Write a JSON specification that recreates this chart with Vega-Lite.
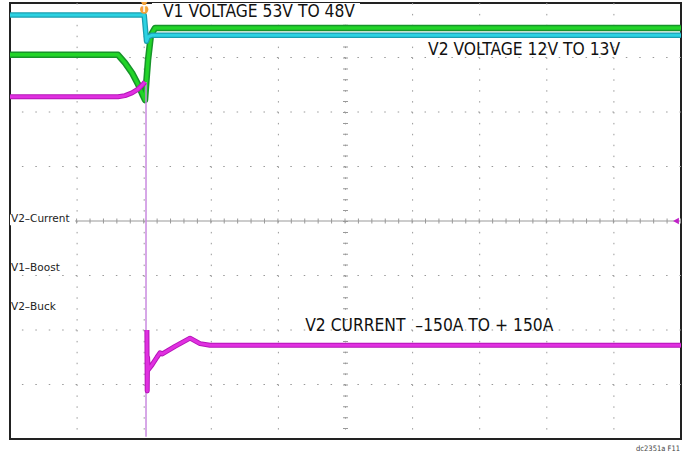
{
  "$schema": "https://vega.github.io/schema/vega-lite/v6.json",
  "width": 671,
  "height": 436,
  "autosize": "none",
  "padding": {"left": 10, "top": 3, "right": 9, "bottom": 15},
  "background": "white",
  "config": {"view": {"stroke": "#222", "strokeWidth": 2}},
  "datasets": {
    "gx": [{"g": 1}, {"g": 2}, {"g": 3}, {"g": 4}, {"g": 6}, {"g": 7}, {"g": 8}, {"g": 9}],
    "gy": [{"g": 1}, {"g": 2}, {"g": 3}, {"g": 5}, {"g": 6}, {"g": 7}],
    "cx": [{"g": 4}],
    "cv": [{"g": 5}],
    "tr": [
      {"s": "cyan", "i": 0, "t": 0, "v": 7.78},
      {"s": "cyan", "i": 1, "t": 2.0, "v": 7.78},
      {"s": "cyan", "i": 2, "t": 2.02, "v": 7.5},
      {"s": "cyan", "i": 3, "t": 2.035, "v": 7.3},
      {"s": "cyan", "i": 4, "t": 2.06, "v": 7.38},
      {"s": "cyan", "i": 5, "t": 2.12, "v": 7.41},
      {"s": "cyan", "i": 6, "t": 10, "v": 7.41},
      {"s": "green", "i": 0, "t": 0, "v": 7.05},
      {"s": "green", "i": 1, "t": 1.61, "v": 7.05},
      {"s": "green", "i": 2, "t": 1.714, "v": 6.9},
      {"s": "green", "i": 3, "t": 1.818, "v": 6.72},
      {"s": "green", "i": 4, "t": 1.908, "v": 6.51},
      {"s": "green", "i": 5, "t": 1.982, "v": 6.3},
      {"s": "green", "i": 6, "t": 2.012, "v": 6.22},
      {"s": "green", "i": 7, "t": 2.035, "v": 6.6},
      {"s": "green", "i": 8, "t": 2.057, "v": 6.95},
      {"s": "green", "i": 9, "t": 2.1, "v": 7.41},
      {"s": "green", "i": 10, "t": 2.16, "v": 7.54},
      {"s": "green", "i": 11, "t": 10, "v": 7.54},
      {"s": "m1", "i": 0, "t": 0, "v": 6.28},
      {"s": "m1", "i": 1, "t": 1.61, "v": 6.28},
      {"s": "m1", "i": 2, "t": 1.714, "v": 6.3},
      {"s": "m1", "i": 3, "t": 1.818, "v": 6.35},
      {"s": "m1", "i": 4, "t": 1.908, "v": 6.42},
      {"s": "m1", "i": 5, "t": 1.982, "v": 6.51},
      {"s": "m1", "i": 6, "t": 2.012, "v": 6.55},
      {"s": "lav", "i": 0, "t": 2.027, "v": 6.55},
      {"s": "lav", "i": 1, "t": 2.027, "v": 0.04},
      {"s": "m2", "i": 0, "t": 2.04, "v": 2.0},
      {"s": "m2", "i": 1, "t": 2.045, "v": 0.88},
      {"s": "m2", "i": 2, "t": 2.05, "v": 1.5},
      {"s": "m2", "i": 3, "t": 2.06, "v": 1.27},
      {"s": "m2", "i": 4, "t": 2.116, "v": 1.36},
      {"s": "m2", "i": 5, "t": 2.19, "v": 1.5},
      {"s": "m2", "i": 6, "t": 2.235, "v": 1.58},
      {"s": "m2", "i": 7, "t": 2.27, "v": 1.56},
      {"s": "m2", "i": 8, "t": 2.459, "v": 1.7},
      {"s": "m2", "i": 9, "t": 2.683, "v": 1.85},
      {"s": "m2", "i": 10, "t": 2.832, "v": 1.75},
      {"s": "m2", "i": 11, "t": 2.98, "v": 1.72},
      {"s": "m2", "i": 12, "t": 10, "v": 1.72}
    ],
    "big": [
      {"label": "V1 VOLTAGE 53V TO 48V", "t": 2.28, "v": 7.83},
      {"label": "V2 VOLTAGE 12V TO 13V", "t": 6.23, "v": 7.14},
      {"label": "V2 CURRENT \u00a0\u2013150A TO + 150A", "t": 4.4, "v": 2.07}
    ],
    "small": [
      {"label": "V2\u2013Current", "t": 0.015, "v": 4.03},
      {"label": "V1\u2013Boost", "t": 0.015, "v": 3.14},
      {"label": "V2\u2013Buck", "t": 0.015, "v": 2.42}
    ]
  },
  "layer": [
    {
      "data": {"name": "gx"},
      "mark": {"type": "rule", "color": "#999", "strokeWidth": 1, "strokeDash": [1.5, 9.4]},
      "encoding": {
        "x": {"field": "g", "type": "quantitative", "scale": {"domain": [0, 10], "nice": false, "zero": false}, "axis": null}
      }
    },
    {
      "data": {"name": "gy"},
      "mark": {"type": "rule", "color": "#999", "strokeWidth": 1, "strokeDash": [1.5, 11.92]},
      "encoding": {
        "y": {"field": "g", "type": "quantitative", "scale": {"domain": [0, 8], "nice": false, "zero": false}, "axis": null}
      }
    },
    {
      "data": {"name": "cx"},
      "mark": {"type": "rule", "color": "#999", "strokeWidth": 1},
      "encoding": {"y": {"field": "g", "type": "quantitative"}}
    },
    {
      "data": {"name": "cx"},
      "mark": {"type": "rule", "color": "#999", "strokeWidth": 5, "strokeDash": [1, 12.42]},
      "encoding": {"y": {"field": "g", "type": "quantitative"}}
    },
    {
      "data": {"name": "cv"},
      "mark": {"type": "rule", "color": "#999", "strokeWidth": 1, "strokeDash": [1.5, 9.4]},
      "encoding": {"x": {"field": "g", "type": "quantitative"}}
    },
    {
      "data": {"name": "cv"},
      "mark": {"type": "rule", "color": "#999", "strokeWidth": 5, "strokeDash": [1, 9.9]},
      "encoding": {"x": {"field": "g", "type": "quantitative"}}
    },
    {
      "data": {"values": [{"t1": 2.116, "t2": 5.216, "v1": 8.0, "v2": 7.63}, {"t1": 0.0, "t2": 0.97, "v1": 4.12, "v2": 3.92}]},
      "mark": {"type": "rect", "color": "white"},
      "encoding": {
        "x": {"field": "t1", "type": "quantitative"},
        "x2": {"field": "t2"},
        "y": {"field": "v1", "type": "quantitative"},
        "y2": {"field": "v2"}
      }
    },
    {
      "data": {"name": "tr"},
      "transform": [{"filter": {"field": "s", "equal": "green"}}],
      "mark": {"type": "line", "color": "#17942a", "strokeWidth": 6.5, "strokeJoin": "round"},
      "encoding": {
        "x": {"field": "t", "type": "quantitative"},
        "y": {"field": "v", "type": "quantitative"},
        "order": {"field": "i"}
      }
    },
    {
      "data": {"name": "tr"},
      "transform": [{"filter": {"field": "s", "equal": "green"}}],
      "mark": {"type": "line", "color": "#22d428", "strokeWidth": 3.5, "strokeJoin": "round"},
      "encoding": {
        "x": {"field": "t", "type": "quantitative"},
        "y": {"field": "v", "type": "quantitative"},
        "order": {"field": "i"}
      }
    },
    {
      "data": {"name": "tr"},
      "transform": [{"filter": {"field": "s", "equal": "cyan"}}],
      "mark": {"type": "line", "color": "#1a9eb0", "strokeWidth": 5.5, "strokeJoin": "round"},
      "encoding": {
        "x": {"field": "t", "type": "quantitative"},
        "y": {"field": "v", "type": "quantitative"},
        "order": {"field": "i"}
      }
    },
    {
      "data": {"name": "tr"},
      "transform": [{"filter": {"field": "s", "equal": "cyan"}}],
      "mark": {"type": "line", "color": "#2cd2e2", "strokeWidth": 3, "strokeJoin": "round"},
      "encoding": {
        "x": {"field": "t", "type": "quantitative"},
        "y": {"field": "v", "type": "quantitative"},
        "order": {"field": "i"}
      }
    },
    {
      "data": {"name": "tr"},
      "transform": [{"filter": {"field": "s", "equal": "lav"}}],
      "mark": {"type": "line", "color": "#c98ae0", "strokeWidth": 1.5},
      "encoding": {
        "x": {"field": "t", "type": "quantitative"},
        "y": {"field": "v", "type": "quantitative"},
        "order": {"field": "i"}
      }
    },
    {
      "data": {"name": "tr"},
      "transform": [{"filter": {"field": "s", "oneOf": ["m1", "m2"]}}],
      "mark": {"type": "line", "color": "#b515b8", "strokeWidth": 5, "strokeJoin": "round"},
      "encoding": {
        "x": {"field": "t", "type": "quantitative"},
        "y": {"field": "v", "type": "quantitative"},
        "detail": {"field": "s"},
        "order": {"field": "i"}
      }
    },
    {
      "data": {"name": "tr"},
      "transform": [{"filter": {"field": "s", "oneOf": ["m1", "m2"]}}],
      "mark": {"type": "line", "color": "#e030e0", "strokeWidth": 3, "strokeJoin": "round"},
      "encoding": {
        "x": {"field": "t", "type": "quantitative"},
        "y": {"field": "v", "type": "quantitative"},
        "detail": {"field": "s"},
        "order": {"field": "i"}
      }
    },
    {
      "data": {"values": [{"t": 2.0, "v": 7.88}]},
      "mark": {"type": "point", "shape": "circle", "filled": true, "color": "#f2a23a", "size": 70, "opacity": 1},
      "encoding": {"x": {"field": "t", "type": "quantitative"}, "y": {"field": "v", "type": "quantitative"}}
    },
    {
      "data": {"values": [{"t": 2.0, "v": 7.97}]},
      "mark": {"type": "point", "shape": "triangle-down", "filled": true, "color": "#f2a23a", "size": 40, "opacity": 1},
      "encoding": {"x": {"field": "t", "type": "quantitative"}, "y": {"field": "v", "type": "quantitative"}}
    },
    {
      "data": {"values": [{"t": 2.0, "v": 7.88, "label": "T"}]},
      "mark": {"type": "text", "color": "white", "fontSize": 8, "fontWeight": "bold", "font": "DejaVu Sans"},
      "encoding": {"x": {"field": "t", "type": "quantitative"}, "y": {"field": "v", "type": "quantitative"}, "text": {"field": "label"}}
    },
    {
      "data": {"values": [{"t": 9.925, "v": 4.0}]},
      "mark": {"type": "point", "shape": "triangle-left", "filled": true, "color": "#c020c8", "size": 45, "opacity": 1},
      "encoding": {"x": {"field": "t", "type": "quantitative"}, "y": {"field": "v", "type": "quantitative"}}
    },
    {
      "data": {"name": "big"},
      "mark": {"type": "text", "align": "left", "baseline": "middle", "fontSize": 17.3, "font": "DejaVu Sans Condensed, sans-serif", "color": "#111"},
      "encoding": {
        "x": {"field": "t", "type": "quantitative"},
        "y": {"field": "v", "type": "quantitative"},
        "text": {"field": "label"}
      }
    },
    {
      "data": {"name": "small"},
      "mark": {"type": "text", "align": "left", "baseline": "middle", "fontSize": 10.5, "font": "DejaVu Sans, sans-serif", "color": "#222"},
      "encoding": {
        "x": {"field": "t", "type": "quantitative"},
        "y": {"field": "v", "type": "quantitative"},
        "text": {"field": "label"}
      }
    },
    {
      "data": {"values": [{"t": 9.985, "v": -0.19, "label": "dc2351a F11"}]},
      "mark": {"type": "text", "align": "right", "baseline": "middle", "fontSize": 7.5, "font": "DejaVu Sans Condensed, sans-serif", "color": "#444"},
      "encoding": {
        "x": {"field": "t", "type": "quantitative"},
        "y": {"field": "v", "type": "quantitative"},
        "text": {"field": "label"}
      }
    }
  ]
}
